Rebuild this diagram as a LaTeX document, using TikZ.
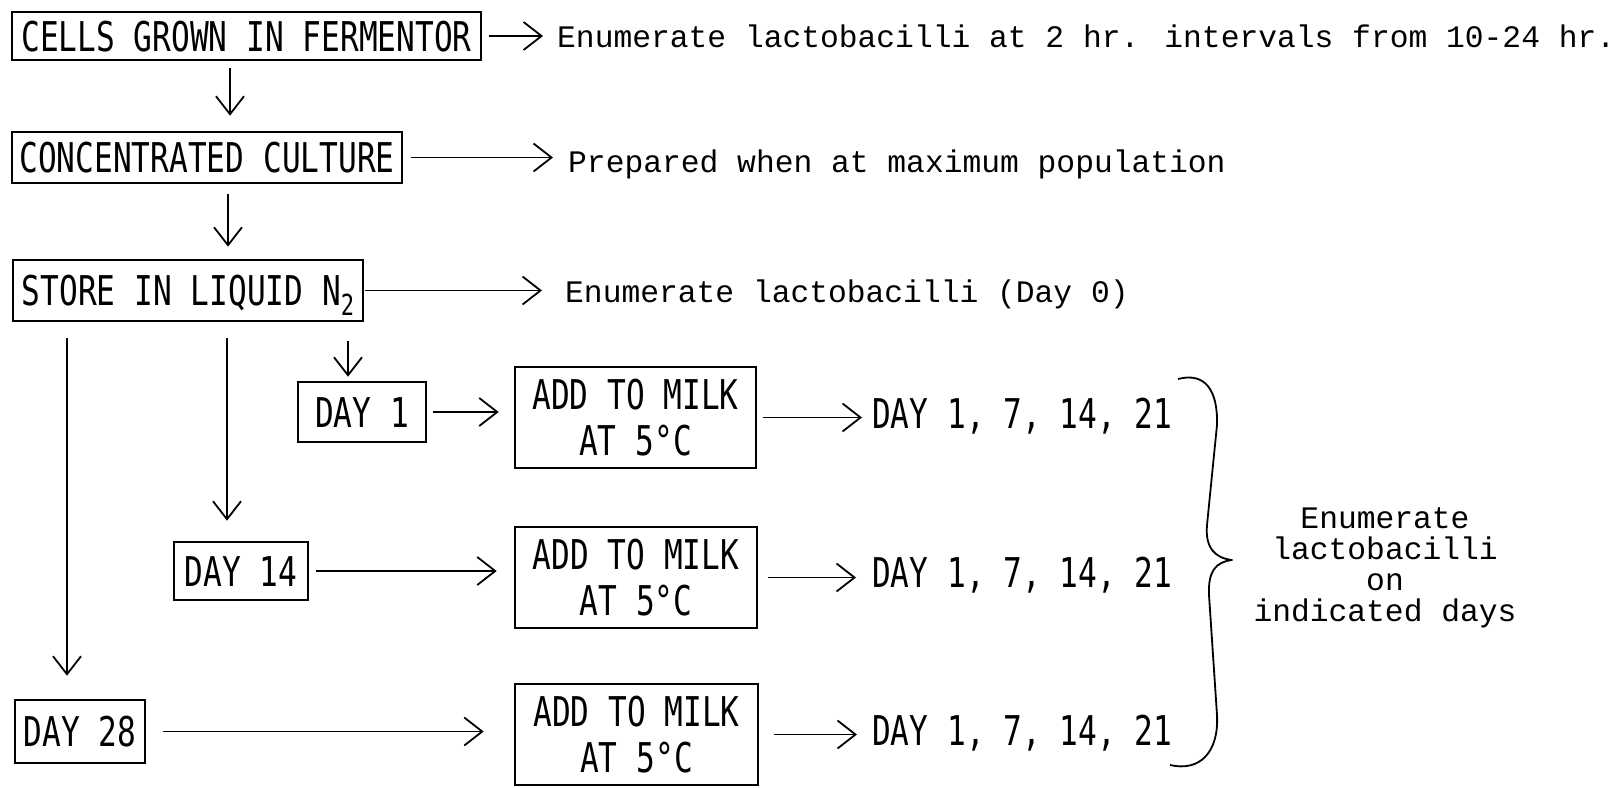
\documentclass[tikz,border=0pt]{standalone}
\usepackage{fontspec}
\usetikzlibrary{arrows.meta}
\newfontfamily\boxfont[FakeStretch=0.76]{DejaVu Sans Mono}
\newfontfamily\typefont{Liberation Mono}
\newcommand{\nsub}[1]{\raisebox{-10pt}{\fontsize{29}{29}\selectfont #1}}

\tikzstyle{stage} = [rectangle, 
draw=black, 
line width=2.6pt, 
inner sep=0pt, 
text centered, 
font=\boxfont\fontsize{41}{46}\selectfont]
\tikzstyle{oneline} = [text height=30pt, text depth=0pt]
\tikzstyle{remark} = [inner sep=0pt, 
anchor=base west, 
font=\typefont\fontsize{31.3}{31}\selectfont]
\tikzstyle{daylist} = [inner sep=0pt, 
anchor=base west, 
font=\boxfont\fontsize{41}{46}\selectfont]
\tikzstyle{arrow} = [line width=1.8pt,->,>={Straight Barb[length=18pt,width=28pt]}]

\begin{document}
\begin{tikzpicture}[x=1pt, y=-1pt]
		\useasboundingbox (0,0) rectangle (1616,787);
		\node (cells) [stage, oneline, minimum width=469pt, minimum height=48pt] at (246.5,36) {CELLS GROWN IN FERMENTOR};
		\node (conc) [stage, oneline, minimum width=390pt, minimum height=51pt] at (207,157.5) {CONCENTRATED CULTURE};
		\node (store) [stage, oneline, minimum width=350pt, minimum height=61pt] at (188,290.5) {STORE IN LIQUID N\nsub{2}};
		\node (day1) [stage, oneline, minimum width=128pt, minimum height=60pt] at (362,412) {DAY 1};
		\node (day14) [stage, oneline, minimum width=134pt, minimum height=58pt] at (241,571) {DAY 14};
		\node (day28) [stage, oneline, minimum width=130pt, minimum height=63pt] at (80,731.5) {DAY 28};
		\node (milkA) [stage, align=center, minimum width=241pt, minimum height=101pt] at (635.5,417.5) {ADD TO MILK\\AT 5°C};
		\node (milkB) [stage, align=center, minimum width=242pt, minimum height=101pt] at (636,577.5) {ADD TO MILK\\AT 5°C};
		\node (milkC) [stage, align=center, minimum width=243pt, minimum height=101pt] at (636.5,734.5) {ADD TO MILK\\AT 5°C};

		\node (growth) [remark] at (557,47) {Enumerate lactobacilli at 2 hr. intervals from 10-24 hr.};
		\node (maxpop) [remark] at (568,172) {Prepared when at maximum population};
		\node (dayzero) [remark] at (565,302) {Enumerate lactobacilli (Day 0)};
		\node (listA) [daylist] at (872,428) {DAY 1, 7, 14, 21};
		\node (listB) [daylist] at (872,587) {DAY 1, 7, 14, 21};
		\node (listC) [daylist] at (872,745) {DAY 1, 7, 14, 21};
		\node (enum) [inner sep=0pt, align=center, font=\typefont\fontsize{31.3}{31}\selectfont] at (1385,568) {Enumerate\\lactobacilli\\on\\indicated days};

		\draw [arrow, shorten <=7pt, shorten >=15pt] ([xshift=-16.5pt]cells.south) -- ([xshift=23pt]conc.north);
		\draw [arrow, shorten <=10pt, shorten >=12pt] ([xshift=21pt]conc.south) -- ([xshift=40pt]store.north);
		\draw [arrow, shorten <=16pt, shorten >=23pt] ([xshift=-121pt]store.south) -- ([xshift=-13pt]day28.north);
		\draw [arrow, shorten <=16pt, shorten >=20pt] ([xshift=39pt]store.south) -- ([xshift=-14pt]day14.north);
		\draw [arrow, shorten <=19pt, shorten >=4pt] ([xshift=160pt]store.south) -- ([xshift=-14pt]day1.north);

		\draw [arrow, shorten <=7pt, shorten >=14pt] (cells.east) -- (cells.east -| growth.west);
		\draw [arrow, shorten <=8pt, shorten >=15pt] (conc.east) -- (conc.east -| maxpop.west);
		\draw [arrow, shorten <=1pt, shorten >=23pt] (store.east) -- (store.east -| dayzero.west);
		\draw [arrow, shorten <=6pt, shorten >=15pt] (day1.east) -- (day1.east -| milkA.west);
		\draw [arrow, shorten <=7pt, shorten >=17pt] (day14.east) -- (day14.east -| milkB.west);
		\draw [arrow, shorten <=17pt, shorten >=30pt] (day28.east) -- (day28.east -| milkC.west);
		\draw [arrow, shorten <=6pt, shorten >=10pt] (milkA.east) -- (milkA.east -| listA.west);
		\draw [arrow, shorten <=10pt, shorten >=16pt] (milkB.east) -- (milkB.east -| listB.west);
		\draw [arrow, shorten <=15pt, shorten >=15pt] (milkC.east) -- (milkC.east -| listC.west);

		% brace over the three day lists
		\draw [line width=1.8pt, line join=round] (1178,379) .. controls (1205,372) and (1218,390) .. (1217,425) -- (1207,525)
			.. controls (1205,548) and (1215,558) .. (1232,560) .. controls (1215,562) and (1208,572) .. (1209,595)
			-- (1217,715) .. controls (1219,752) and (1200,772) .. (1170,765);
	\end{tikzpicture}
\end{document}
